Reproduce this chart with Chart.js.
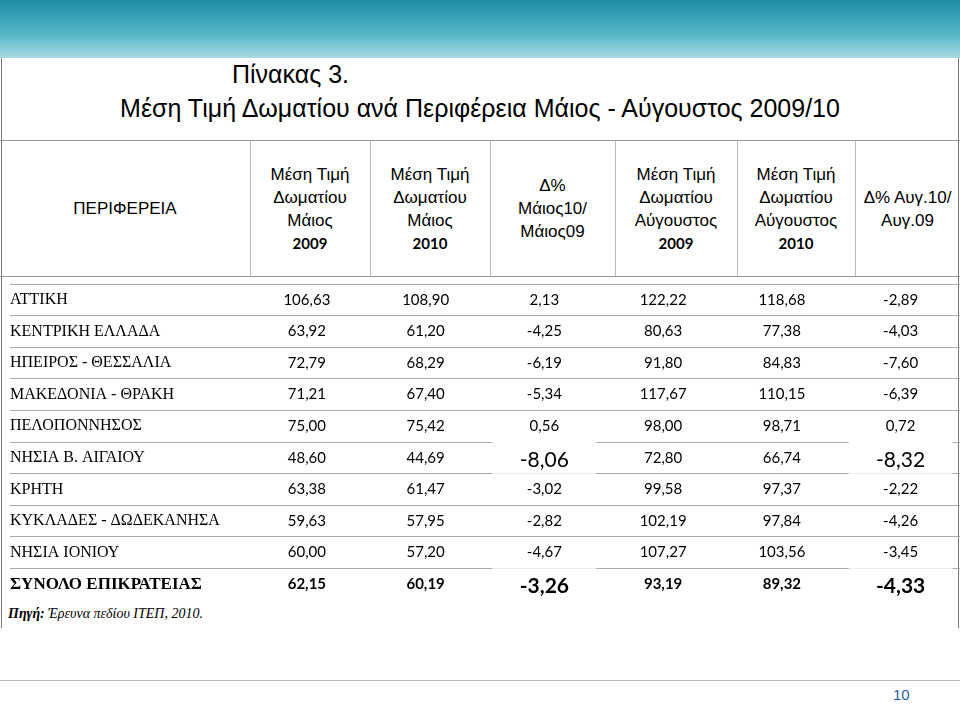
<!DOCTYPE html>
<html>
<head>
<meta charset="utf-8">
<script src="https://cdn.jsdelivr.net/npm/chart.js@4.4.1/dist/chart.umd.min.js"></script>
<style>
  body { margin: 0; width: 960px; height: 720px; background: #fff; position: relative; overflow: hidden; font-family: "Liberation Serif", serif; }
  #band { position: absolute; left: 0; top: 0; width: 960px; height: 58px; background: linear-gradient(180deg, #1d8fa6 0%, #55b7c8 60%, #a9dbe4 100%); }
  #frame { position: absolute; left: 1px; top: 58px; width: 956px; height: 570px; border-left: 1px solid #777; border-right: 1px solid #777; }
  #t1 { position: absolute; left: 232px; top: 60px; font: 25px "Liberation Sans", sans-serif; }
  #t2 { position: absolute; left: 0; width: 960px; top: 94px; text-align: center; font: 25px "Liberation Sans", sans-serif; }
  #head { position: absolute; left: 0; top: 140px; width: 960px; height: 135px; border-top: 1px solid #999; border-bottom: 1px solid #999; }
  .h { position: absolute; top: 0; height: 135px; display: flex; align-items: center; justify-content: center; text-align: center; font: 17px/23px "Liberation Sans", sans-serif; border-right: 1px solid #bbb; }
  .h b { font-family: Lato, sans-serif; font-weight: bold; font-size: 15px; }
  #wrap { position: absolute; left: 0; top: 284px; width: 960px; height: 316px; }
  #src { position: absolute; left: 8px; top: 606px; font: italic 14px "Liberation Serif", serif; }
  #pg { position: absolute; left: 893px; top: 686px; font: 15px "Liberation Sans", sans-serif; color: #1f5fa8; }
  #foot { position: absolute; left: 0; top: 680px; width: 960px; border-top: 1px solid #bbb; }
</style>
</head>
<body>
<div id="band"></div>
<div id="frame"></div>
<div id="t1">Πίνακας 3.</div>
<div id="t2">Μέση Τιμή Δωματίου ανά Περιφέρεια Μάιος - Αύγουστος 2009/10</div>
<div id="head">
  <div class="h" style="left:0;width:250px"><span>ΠΕΡΙΦΕΡΕΙΑ</span></div>
  <div class="h" style="left:250px;width:120px"><span>Μέση Τιμή<br>Δωματίου<br>Μάιος<br><b>2009</b></span></div>
  <div class="h" style="left:370px;width:120px"><span>Μέση Τιμή<br>Δωματίου<br>Μάιος<br><b>2010</b></span></div>
  <div class="h" style="left:490px;width:125px"><span>Δ%<br>Μάιος10/<br>Μάιος09</span></div>
  <div class="h" style="left:615px;width:122px"><span>Μέση Τιμή<br>Δωματίου<br>Αύγουστος<br><b>2009</b></span></div>
  <div class="h" style="left:737px;width:118px"><span>Μέση Τιμή<br>Δωματίου<br>Αύγουστος<br><b>2010</b></span></div>
  <div class="h" style="left:855px;width:105px;border-right:none"><span>Δ% Αυγ.10/<br>Αυγ.09</span></div>
</div>
<div id="wrap"><canvas id="c"></canvas></div>
<div id="src"><b>Πηγή:</b> Έρευνα πεδίου ΙΤΕΠ, 2010.</div>
<div id="foot"></div>
<div id="pg">10</div>
<script>
const regions = ['ΑΤΤΙΚΗ', 'ΚΕΝΤΡΙΚΗ ΕΛΛΑΔΑ', 'ΗΠΕΙΡΟΣ - ΘΕΣΣΑΛΙΑ', 'ΜΑΚΕΔΟΝΙΑ - ΘΡΑΚΗ', 'ΠΕΛΟΠΟΝΝΗΣΟΣ',
  'ΝΗΣΙΑ Β. ΑΙΓΑΙΟΥ', 'ΚΡΗΤΗ', 'ΚΥΚΛΑΔΕΣ - ΔΩΔΕΚΑΝΗΣΑ', 'ΝΗΣΙΑ ΙΟΝΙΟΥ', 'ΣΥΝΟΛΟ ΕΠΙΚΡΑΤΕΙΑΣ'];
const columns = ['', '', 'may09', 'may10', 'dMay', 'aug09', 'aug10', 'dAug'];
const may09 = [106.63, 63.92, 72.79, 71.21, 75.00, 48.60, 63.38, 59.63, 60.00, 62.15];
const may10 = [108.90, 61.20, 68.29, 67.40, 75.42, 44.69, 61.47, 57.95, 57.20, 60.19];
const dMay = [2.13, -4.25, -6.19, -5.34, 0.56, -8.06, -3.02, -2.82, -4.67, -3.26];
const aug09 = [122.22, 80.63, 91.80, 117.67, 98.00, 72.80, 99.58, 102.19, 107.27, 93.19];
const aug10 = [118.68, 77.38, 84.83, 110.15, 98.71, 66.74, 97.37, 97.84, 103.56, 89.32];
const dAug = [-2.89, -4.03, -7.60, -6.39, 0.72, -8.32, -2.22, -4.26, -3.45, -4.33];
const highlighted = [[5, 'dMay'], [5, 'dAug'], [9, 'dMay'], [9, 'dAug']];

const series = { may09, may10, dMay, aug09, aug10, dAug };
const fmt = v => v.toFixed(2).replace('.', ',');

const datasets = Object.keys(series).map(k => ({
  label: k,
  data: series[k].map((v, i) => ({ x: k, y: regions[i], v })),
  pointRadius: 0
}));

// draws the row labels and cell values at the category positions
const tableText = {
  id: 'tableText',
  afterDatasetsDraw(chart) {
    const { ctx, scales: { x, y } } = chart;
    ctx.save();
    ctx.textBaseline = 'middle';
    regions.forEach((r, i) => {
      const py = y.getPixelForValue(i);
      const last = i === regions.length - 1;
      ctx.fillStyle = '#000';
      ctx.textAlign = 'left';
      ctx.font = (last ? 'bold 17px' : '16px') + ' "Liberation Serif", serif';
      ctx.fillText(r, 10, py);
    });
    chart.data.datasets.forEach(ds => {
      ds.data.forEach((d, i) => {
        const px = x.getPixelForValue(columns.indexOf(d.x));
        const py = y.getPixelForValue(i);
        const hi = highlighted.some(h => h[0] === i && h[1] === d.x);
        const last = i === regions.length - 1;
        if (hi) {
          ctx.fillStyle = '#fff';
          ctx.fillRect(px - 52, py - 16, 104, 32);
        }
        ctx.fillStyle = '#000';
        ctx.textAlign = 'center';
        ctx.font = (last ? 'bold ' : '') + (hi ? '21px' : '15px') + ' Lato, sans-serif';
        ctx.fillText(fmt(d.v), px, py + (hi ? 2 : 0));
      });
    });
    ctx.restore();
  }
};

new Chart(document.getElementById('c'), {
  type: 'scatter',
  data: { datasets },
  options: {
    responsive: true,
    maintainAspectRatio: false,
    animation: false,
    layout: { padding: { left: 10, right: 0, top: 0, bottom: 0 } },
    plugins: { legend: { display: false }, tooltip: { enabled: false } },
    scales: {
      x: { type: 'category', labels: columns, offset: true, display: false },
      y: {
        type: 'category', labels: regions, offset: true,
        ticks: { display: false },
        border: { display: false },
        grid: { offset: true, color: '#aaa', drawTicks: false }
      }
    }
  },
  plugins: [tableText]
});
</script>
</body>
</html>
